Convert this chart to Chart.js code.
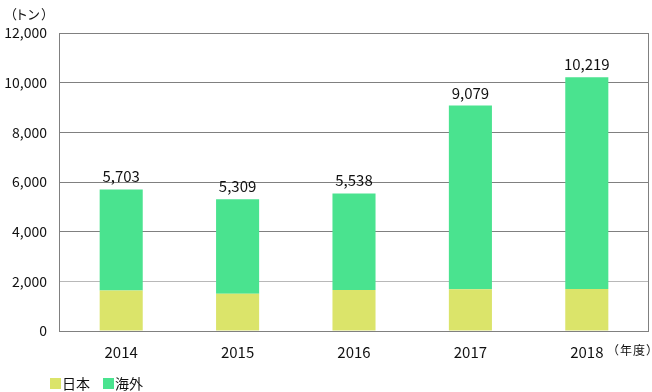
<!DOCTYPE html>
<html><head><meta charset="utf-8">
<script src="https://cdn.jsdelivr.net/npm/chart.js@4/dist/chart.umd.min.js"></script>
<style>html,body{margin:0;padding:0;background:#fff}#wrap{width:652px;height:392px;position:relative}</style>
</head><body><div id="wrap"><canvas id="c" width="652" height="392"></canvas></div>
<script>
const categories = ['2014','2015','2016','2017','2018'];
const totals = [5703, 5309, 5538, 9079, 10219];
const japan = [1630, 1500, 1650, 1680, 1690];
const overseas = [4073, 3809, 3888, 7399, 8529];
const seriesNames = ['日本','海外'];
const yTicks = [0,2000,4000,6000,8000,10000,12000];
const unitY = '（トン）';
const unitX = '（年度）';
const FONT = '"Noto Sans CJK JP", "Open Sans", sans-serif';
const colors = ['#dbe46a', '#4ae38f'];

// draw text glyph by glyph, packing visible ink tightly (like proportional CJK spacing)
function drawTight(ctx, text, x, y, gap){
  let cx = x;
  for (const ch of text){
    const m = ctx.measureText(ch);
    const l = m.actualBoundingBoxLeft, r = m.actualBoundingBoxRight;
    ctx.fillText(ch, cx + l, y);
    cx += l + r + gap;
  }
}
// same, but laid out from the right edge of the ink
function drawTightRight(ctx, text, xRight, y, gap){
  let cx = xRight;
  for (const ch of Array.from(text).reverse()){
    const m = ctx.measureText(ch);
    const l = m.actualBoundingBoxLeft, r = m.actualBoundingBoxRight;
    const origin = cx - r;
    ctx.fillText(ch, origin, y);
    cx = origin - l - gap;
  }
}

const extras = {
  id:'extras',
  afterLayout(chart){
    const x = chart.scales.x;
    x.left += 4; x.right -= 3; x.width = x.right - x.left;
    x.configure();
  },
  afterDatasetsDraw(chart){
    const {ctx, chartArea:a, scales:{x,y}} = chart;
    ctx.save();
    ctx.strokeStyle='#808080'; ctx.lineWidth=1;
    ctx.beginPath(); ctx.moveTo(a.right+0.5, a.top); ctx.lineTo(a.right+0.5, a.bottom); ctx.stroke();
    ctx.beginPath(); ctx.moveTo(a.left, a.bottom+0.5); ctx.lineTo(a.right+1, a.bottom+0.5); ctx.stroke();
    // totals
    ctx.fillStyle='#111'; ctx.font='15px '+FONT; ctx.textAlign='center'; ctx.textBaseline='alphabetic';
    totals.forEach((t,i)=>{ ctx.fillText(t.toLocaleString('en-US'), x.getPixelForValue(i), y.getPixelForValue(t)-7); });
    // units
    ctx.textBaseline='middle';
    ctx.textAlign='left';
    ctx.font='13px '+FONT;
    drawTight(ctx, unitY, 13, 14, 2);
    ctx.font='12px '+FONT;
    drawTightRight(ctx, unitX, 650, 350, 1);
    // legend
    ctx.font='14px '+FONT;
    let lx=50;
    seriesNames.forEach((n,i)=>{
      ctx.fillStyle=colors[i]; ctx.fillRect(lx, 378, 11, 11);
      ctx.fillStyle='#111'; ctx.fillText(n, lx+12, 384);
      lx += 53;
    });
    ctx.restore();
  }
};

new Chart(document.getElementById('c'), {
  type:'bar',
  data:{labels:categories, datasets:[
    {label:seriesNames[0], data:japan, backgroundColor:colors[0], barPercentage:0.37, categoryPercentage:1},
    {label:seriesNames[1], data:overseas, backgroundColor:colors[1], barPercentage:0.37, categoryPercentage:1}
  ]},
  options:{
    responsive:false, animation:false, devicePixelRatio:1,
    layout:{padding:{top:33,right:4,left:0,bottom:0}},
    plugins:{legend:{display:false}, tooltip:{enabled:false}},
    scales:{
      x:{stacked:true, grid:{display:false}, border:{display:false},
         ticks:{color:'#111', font:{family:FONT,size:15}, padding:4},
         afterFit(s){ s.height=61; }},
      y:{stacked:true, min:0, max:12000,
         afterBuildTicks(s){ s.ticks = yTicks.map(v=>({value:v})); },
         ticks:{color:'#111', font:{family:FONT,size:14}, padding:12, callback:v=>v.toLocaleString('en-US')},
         grid:{color:c=>c.tick && c.tick.value===2000 ? '#b8b8b8' : '#808080', drawTicks:false},
         border:{color:'#808080'},
         afterFit(s){ s.width=59; }}
    }
  },
  plugins:[extras]
});
</script></body></html>
